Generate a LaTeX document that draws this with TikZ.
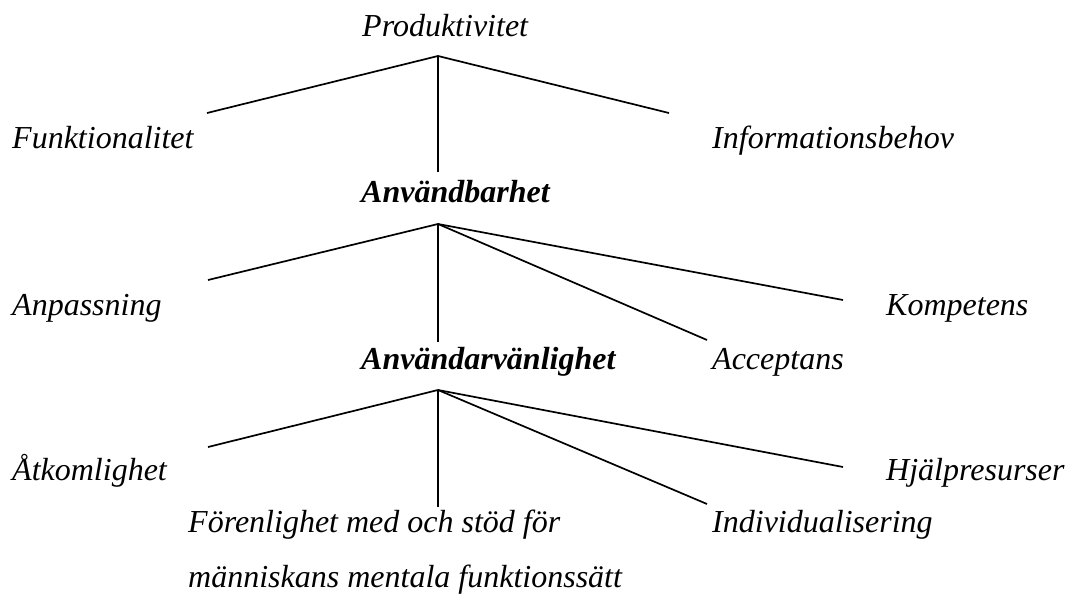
\documentclass[tikz,border=0pt]{standalone}
\usepackage{fontspec}
\setmainfont{Liberation Serif}
\begin{document}
\begin{tikzpicture}[x=1pt,y=-1pt,
  term/.style={anchor=base west,inner sep=0pt,font=\fontsize{32}{38}\selectfont\itshape},
  key/.style={term,font=\fontsize{32}{38}\selectfont\bfseries\itshape},
  branch/.style={draw=black,line width=1.7pt}]
\useasboundingbox (0,0) rectangle (1069,594);

% Level 1: Produktivitet
\node[term] (prod) at (362,37) {Produktivitet};
\node[term] (funk) at (12,148) {Funktionalitet};
\node[term] (info) at (712,148) {Informationsbehov};
\node[key]  (anvb) at (361,202) {Användbarhet};

\coordinate (j1) at (438,56);
\coordinate (e1a) at (207,113);
\coordinate (e1b) at (669,113);
\coordinate (e1c) at (438,172);
\draw[branch] (e1a) -- (j1) -- (e1b);
\draw[branch] (j1) -- (e1c);

% Level 2: Användbarhet
\node[term] (anpa) at (12,315) {Anpassning};
\node[term] (komp) at (886,315) {Kompetens};
\node[key]  (anvv) at (361,369) {Användarvänlighet};
\node[term] (acce) at (712,369) {Acceptans};

\coordinate (j2) at (438,224);
\coordinate (e2a) at (208,280);
\coordinate (e2b) at (843,300);
\coordinate (e2c) at (707,340);
\coordinate (e2d) at (438,342);
\draw[branch] (e2a) -- (j2) -- (e2b);
\draw[branch] (j2) -- (e2c);
\draw[branch] (j2) -- (e2d);

% Level 3: Användarvänlighet
\node[term] (atko) at (12,480) {Åtkomlighet};
\node[term] (hjal) at (886,480) {Hjälpresurser};
\node[term] (fore) at (188,532) {Förenlighet med och stöd för};
\node[term] (mann) at (188,587) {människans mentala funktionssätt};
\node[term] (indi) at (712,532) {Individualisering};

\coordinate (j3) at (438,390);
\coordinate (e3a) at (208,447);
\coordinate (e3b) at (843,467);
\coordinate (e3c) at (707,504);
\coordinate (e3d) at (438,507);
\draw[branch] (e3a) -- (j3) -- (e3b);
\draw[branch] (j3) -- (e3c);
\draw[branch] (j3) -- (e3d);
\end{tikzpicture}
\end{document}
